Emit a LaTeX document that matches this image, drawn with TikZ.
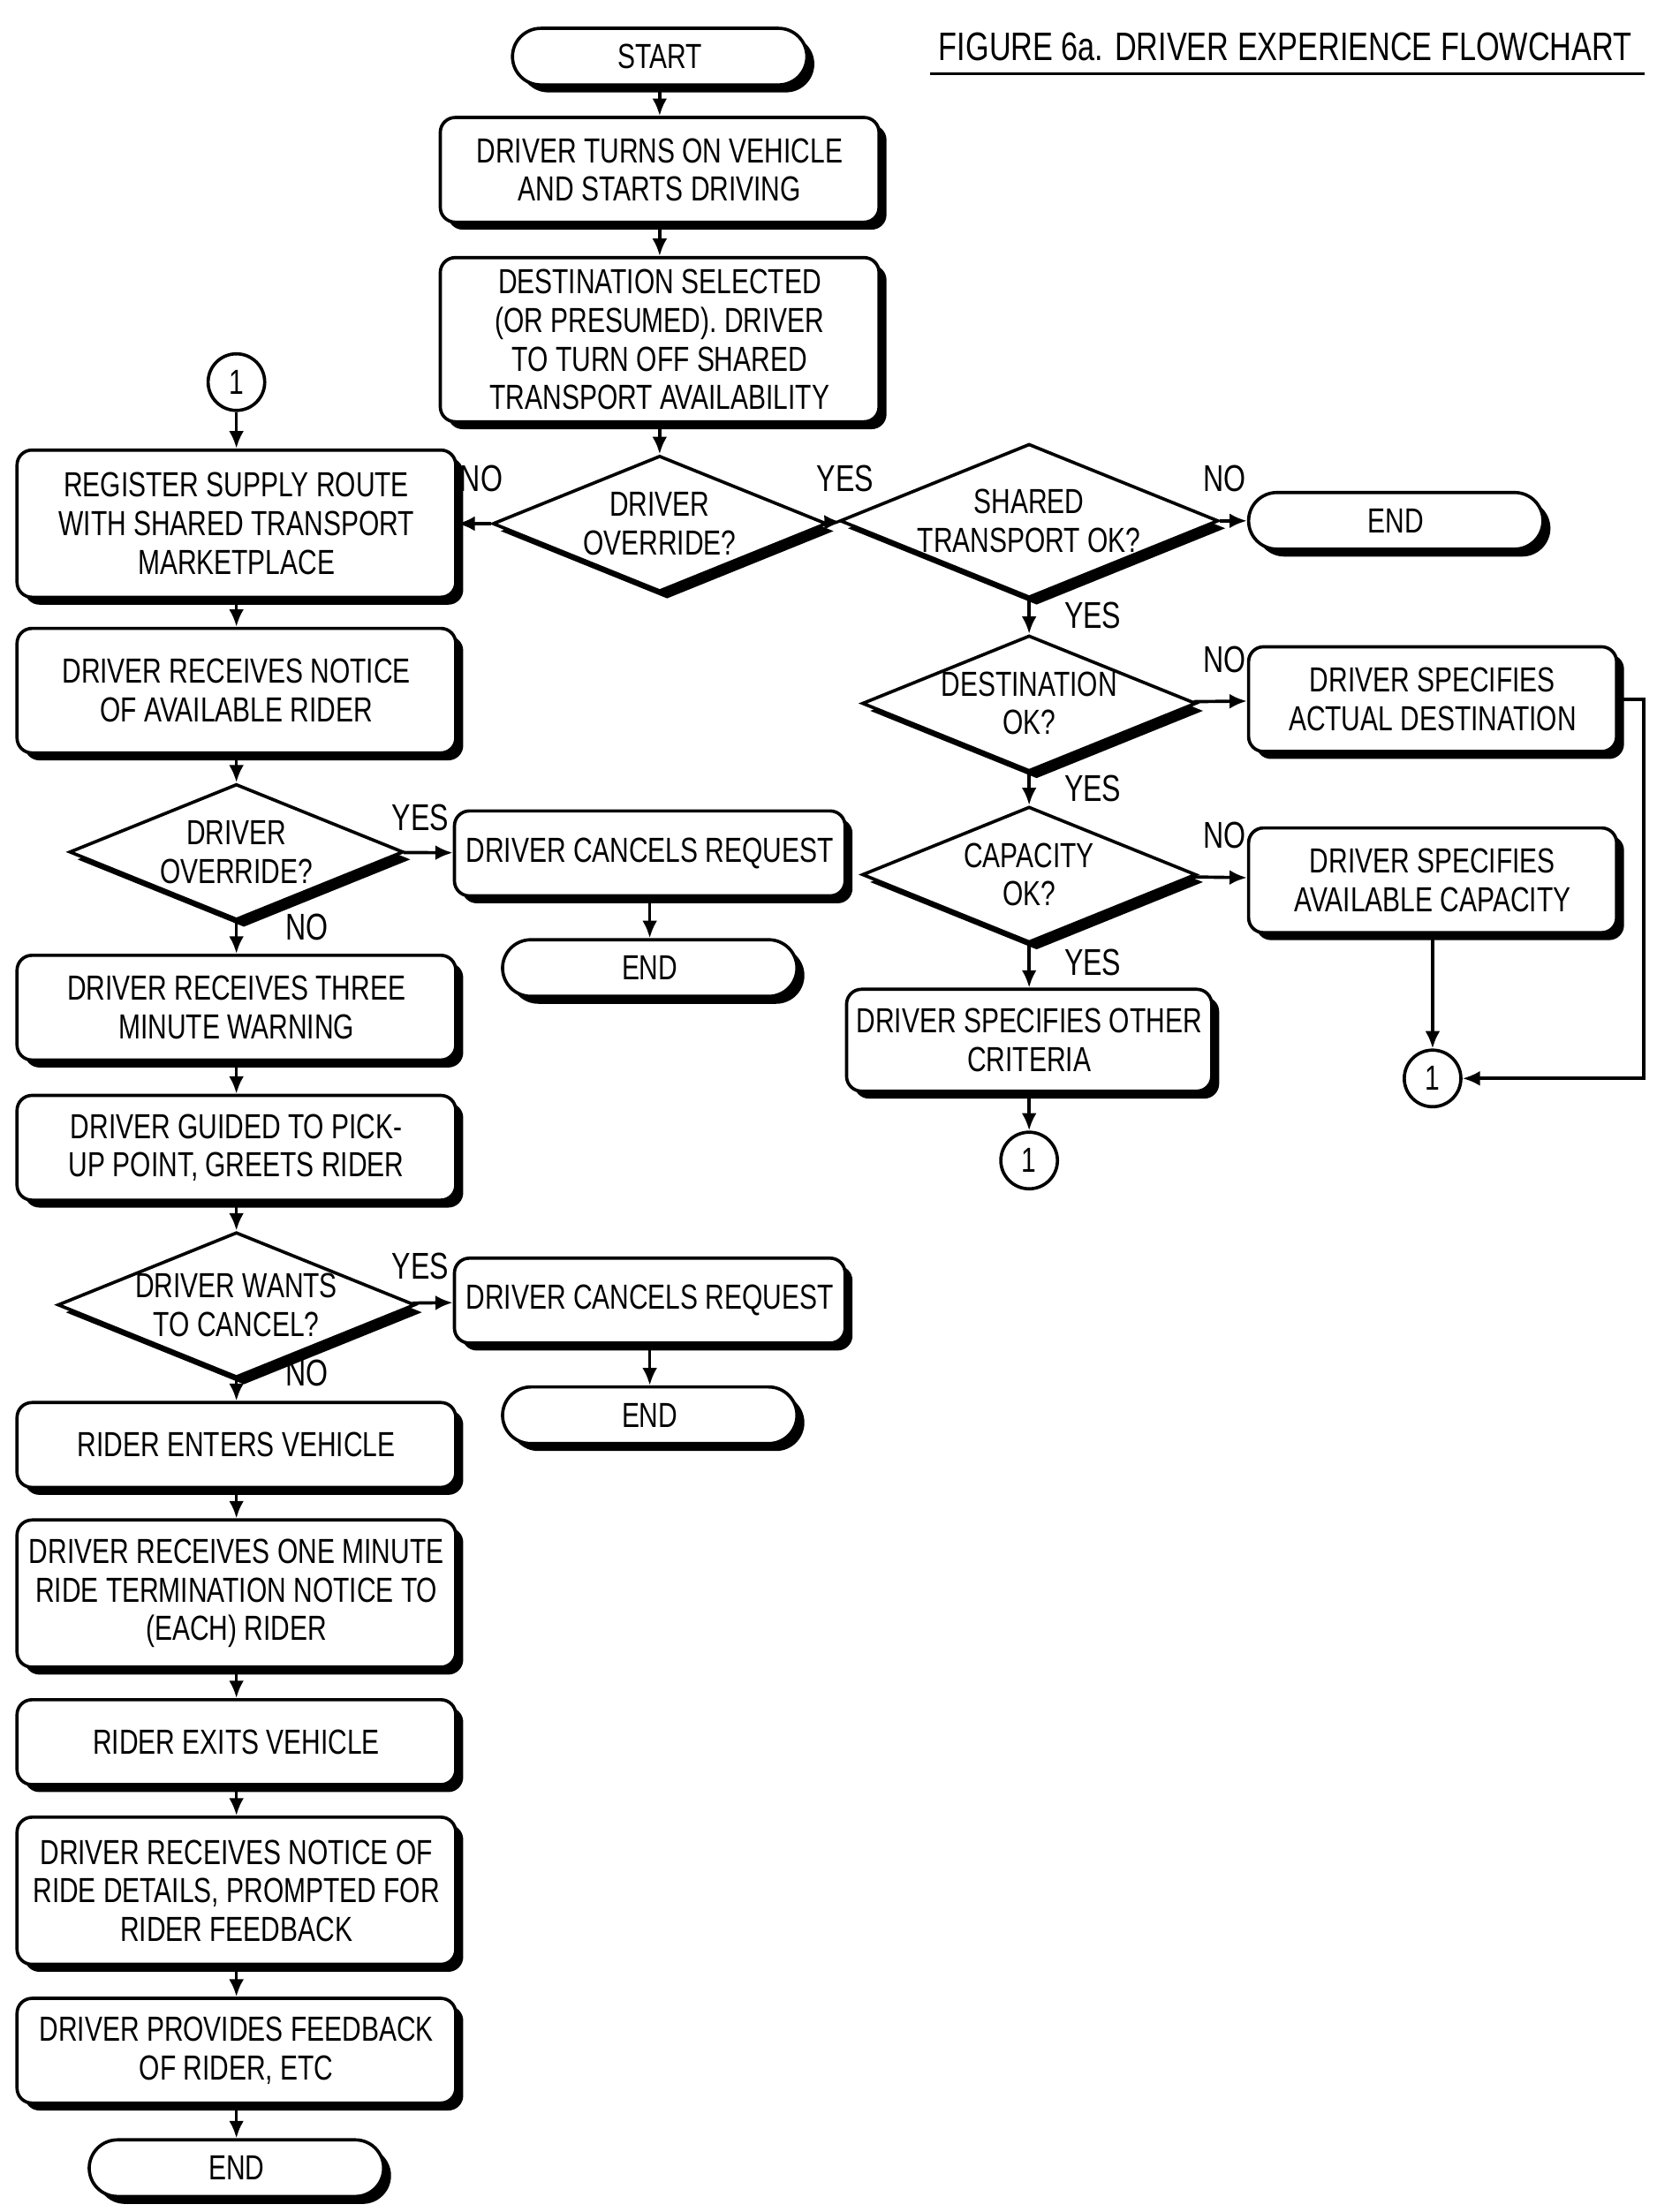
\documentclass[tikz,border=0pt]{standalone}
\usepackage{fontspec}
\setmainfont[FakeStretch=0.76]{Liberation Sans}
\usetikzlibrary{shapes.geometric,shadows,arrows.meta}
\tikzset{
  shd/.style={drop shadow={shadow xshift=3pt,shadow yshift=-3pt,fill=black,opacity=1}},
  box/.style={draw,line width=1.3pt,rounded corners=6pt,fill=white,shd,align=center,
    minimum width=6.2cm,inner sep=2pt,font=\fontsize{14}{15.5}\selectfont},
  term/.style={box,rounded corners=0.4cm,minimum width=4.16cm,minimum height=0.8cm},
  dec/.style={diamond,aspect=2.46,draw,line width=1.3pt,fill=white,shd,align=center,inner sep=0pt,
    minimum width=4.72cm,minimum height=1.92cm,font=\fontsize{14}{15.5}\selectfont},
  conn/.style={circle,draw,line width=1.3pt,fill=white,minimum size=0.8cm,inner sep=0pt,
    font=\fontsize{14}{15}\selectfont},
  lbl/.style={font=\fontsize{15}{16}\selectfont},
  arr/.style={line width=1.3pt,-{Latex[length=7pt,width=6pt]}}
}
\begin{document}
\begin{tikzpicture}[x=0.02cm,y=-0.02cm]
\useasboundingbox (0,0) rectangle (1170,1563);
% title
\node[lbl,font=\fontsize{16}{17}\selectfont] (title) at (908,33) {FIGURE 6a. DRIVER EXPERIENCE FLOWCHART};
\draw[line width=1pt] (657,52) -- (1162,52);
% main column
\node[term] (start) at (466,40) {START};
\node[box,minimum height=1.48cm] (turnon) at (466,120) {DRIVER TURNS ON VEHICLE\\AND STARTS DRIVING};
\node[box,minimum height=2.32cm] (dest) at (466,240) {DESTINATION SELECTED\\(OR PRESUMED). DRIVER\\TO TURN OFF SHARED\\TRANSPORT AVAILABILITY};
\node[dec] (ovr) at (466,370) {DRIVER\\OVERRIDE?};
\node[dec] (shared) at (727,368) {SHARED\\TRANSPORT OK?};
\node[term] (endA) at (986,368) {END};
\node[dec] (destok) at (727,497) {DESTINATION\\OK?};
\node[box,minimum width=5.2cm,minimum height=1.48cm] (actual) at (1012,494) {DRIVER SPECIFIES\\ACTUAL DESTINATION};
\node[dec] (capok) at (727,618) {CAPACITY\\OK?};
\node[box,minimum width=5.2cm,minimum height=1.48cm] (avail) at (1012,622) {DRIVER SPECIFIES\\AVAILABLE CAPACITY};
\node[box,minimum width=5.16cm,minimum height=1.44cm] (other) at (727,735) {DRIVER SPECIFIES OTHER\\CRITERIA};
\node[conn] (cB) at (727,820) {1};
\node[conn] (cC) at (1012,762) {1};
% left column
\node[conn] (cA) at (167,270) {1};
\node[box,minimum height=2.08cm] (reg) at (167,370) {REGISTER SUPPLY ROUTE\\WITH SHARED TRANSPORT\\MARKETPLACE};
\node[box,minimum height=1.76cm] (notice) at (167,488) {DRIVER RECEIVES NOTICE\\OF AVAILABLE RIDER};
\node[dec] (ovr2) at (167,602) {DRIVER\\OVERRIDE?};
\node[box,minimum width=5.52cm,minimum height=1.2cm] (cancelA) at (459,603) {DRIVER CANCELS REQUEST};
\node[term] (endB) at (459,684) {END};
\node[box,minimum height=1.48cm] (three) at (167,712) {DRIVER RECEIVES THREE\\MINUTE WARNING};
\node[box,minimum height=1.48cm] (guided) at (167,811) {DRIVER GUIDED TO PICK-\\UP POINT, GREETS RIDER};
\node[dec] (wants) at (167,922) {DRIVER WANTS\\TO CANCEL?};
\node[box,minimum width=5.52cm,minimum height=1.2cm] (cancelB) at (459,919) {DRIVER CANCELS REQUEST};
\node[term] (endC) at (459,1000) {END};
\node[box,minimum height=1.2cm] (enters) at (167,1021) {RIDER ENTERS VEHICLE};
\node[box,minimum height=2.08cm] (onemin) at (167,1126) {DRIVER RECEIVES ONE MINUTE\\RIDE TERMINATION NOTICE TO\\(EACH) RIDER};
\node[box,minimum height=1.2cm] (exits) at (167,1231) {RIDER EXITS VEHICLE};
\node[box,minimum height=2.08cm] (details) at (167,1336) {DRIVER RECEIVES NOTICE OF\\RIDE DETAILS, PROMPTED FOR\\RIDER FEEDBACK};
\node[box,minimum height=1.48cm] (feedback) at (167,1449) {DRIVER PROVIDES FEEDBACK\\OF RIDER, ETC};
\node[term] (endD) at (167,1532) {END};
% connectors
\draw[arr] (start) -- (turnon);
\draw[arr] (turnon) -- (dest);
\draw[arr] (dest) -- (ovr);
\draw[arr] (ovr) -- (reg);
\draw[arr] (ovr) -- (shared);
\draw[arr] (shared) -- (endA);
\draw[arr] (shared) -- (destok);
\draw[arr] (destok) -- (actual);
\draw[arr] (destok) -- (capok);
\draw[arr] (capok) -- (avail);
\draw[arr] (capok) -- (other);
\draw[arr] (other) -- (cB);
\draw[arr] (avail) -- (cC);
\draw[arr] (actual.east) -- ++(18,0) |- (cC);
\draw[arr] (cA) -- (reg);
\draw[arr] (reg) -- (notice);
\draw[arr] (notice) -- (ovr2);
\draw[arr] (ovr2) -- (cancelA);
\draw[arr] (cancelA) -- (endB);
\draw[arr] (ovr2) -- (three);
\draw[arr] (three) -- (guided);
\draw[arr] (guided) -- (wants);
\draw[arr] (wants) -- (cancelB);
\draw[arr] (cancelB) -- (endC);
\draw[arr] (wants) -- (enters);
\draw[arr] (enters) -- (onemin);
\draw[arr] (onemin) -- (exits);
\draw[arr] (exits) -- (details);
\draw[arr] (details) -- (feedback);
\draw[arr] (feedback) -- (endD);
% branch labels
\node[lbl] (noA) at (340,338) {NO};
\node[lbl] (yesA) at (597,338) {YES};
\node[lbl] (noB) at (865,338) {NO};
\node[lbl] (yesB) at (772,435) {YES};
\node[lbl] (noC) at (865,466) {NO};
\node[lbl] (yesC) at (772,557) {YES};
\node[lbl] (noD) at (865,590) {NO};
\node[lbl] (yesD) at (772,680) {YES};
\node[lbl] (yesE) at (297,578) {YES};
\node[lbl] (noE) at (217,655) {NO};
\node[lbl] (yesF) at (297,895) {YES};
\node[lbl] (noF) at (217,970) {NO};
\end{tikzpicture}
\end{document}
